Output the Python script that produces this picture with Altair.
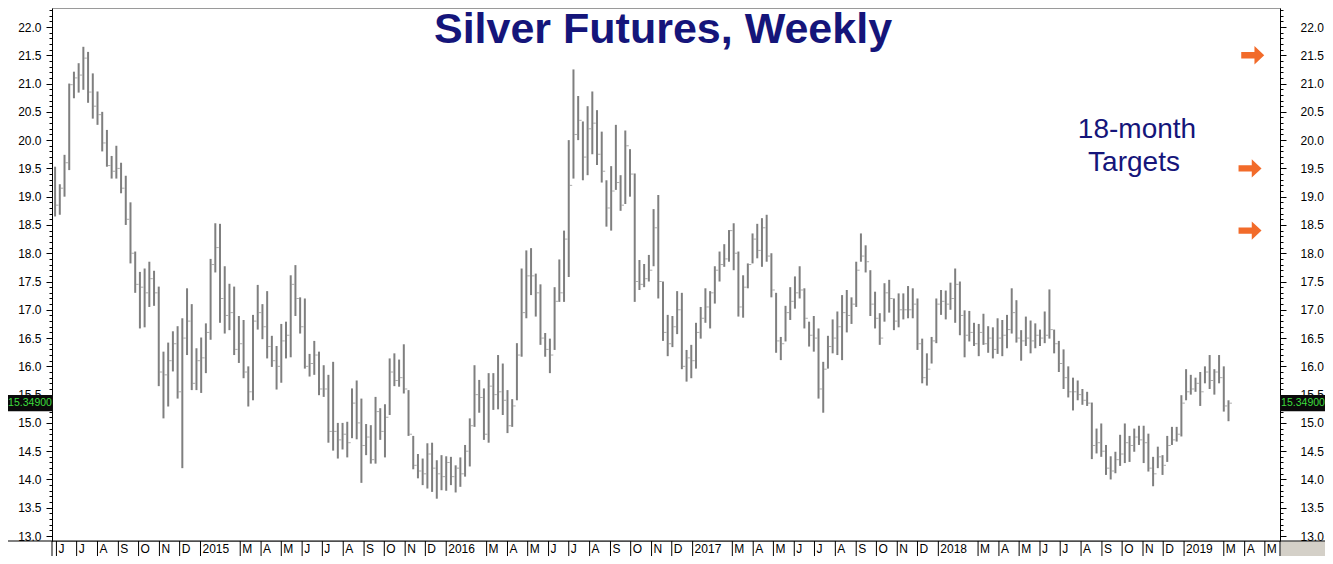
import altair as alt
import pandas as pd

# Weekly silver futures bars (high / low / close), one per week starting 2014-05-30
high = [19.53, 19.22, 19.74, 21.00, 21.21, 21.36, 21.65, 21.56, 21.18, 20.86,
        20.50, 20.18, 19.72, 19.90, 19.60, 19.37, 18.90, 18.03, 17.67, 17.73,
        17.85, 17.69, 17.41, 16.26, 16.42, 16.62, 16.71, 16.85, 17.38, 17.10,
        16.32, 16.51, 16.76, 17.90, 18.53, 18.52, 17.77, 17.46, 17.41, 16.89,
        16.82, 16.00, 16.91, 17.44, 17.10, 17.33, 16.54, 16.36, 16.75, 16.79,
        17.61, 17.79, 17.22, 17.20, 16.22, 16.45, 16.26, 16.02, 15.85, 16.08,
        15.00, 15.00, 15.02, 15.61, 15.75, 15.43, 14.98, 14.96, 15.46, 15.26,
        15.33, 16.14, 16.23, 16.12, 16.39, 15.58, 14.77, 14.45, 14.37, 14.64,
        14.65, 14.34, 14.43, 14.41, 14.40, 14.25, 14.39, 14.61, 15.08, 16.02,
        15.76, 15.61, 15.88, 15.88, 16.20, 16.05, 15.58, 15.42, 16.41, 17.73,
        18.05, 18.09, 17.64, 17.45, 16.59, 16.49, 17.40, 17.89, 18.40, 20.00,
        21.25, 20.78, 20.33, 20.60, 20.86, 20.53, 20.15, 19.29, 19.54, 20.27,
        19.38, 20.17, 19.84, 19.41, 17.88, 17.81, 17.97, 18.78, 19.03, 17.50,
        16.91, 16.89, 17.33, 17.30, 16.29, 16.38, 16.77, 17.05, 17.38, 17.33,
        17.77, 18.03, 18.16, 18.41, 18.53, 18.03, 17.61, 17.82, 18.35, 18.52,
        18.62, 18.68, 18.00, 17.30, 16.52, 17.07, 17.40, 17.59, 17.77, 17.38,
        16.79, 16.89, 16.67, 16.08, 16.54, 16.83, 16.97, 17.26, 17.35, 17.22,
        17.85, 18.35, 18.14, 17.70, 17.32, 16.94, 17.47, 17.53, 17.20, 17.29,
        17.29, 17.42, 17.38, 17.20, 16.49, 16.23, 16.52, 17.20, 17.35, 17.34,
        17.48, 17.73, 17.50, 16.99, 16.98, 16.77, 16.75, 16.93, 16.71, 16.69,
        16.85, 16.82, 16.91, 17.38, 17.17, 16.64, 16.88, 16.81, 16.76, 16.65,
        16.97, 17.36, 16.65, 16.45, 16.30, 16.00, 15.80, 15.75, 15.60, 15.55,
        15.36, 14.90, 14.99, 14.61, 14.41, 14.49, 14.79, 14.99, 14.77, 14.90,
        14.95, 14.95, 14.81, 14.40, 14.58, 14.43, 14.77, 14.93, 14.93, 15.49,
        15.95, 15.85, 15.80, 15.90, 16.00, 16.20, 15.95, 16.20, 16.00, 15.40]

low = [18.65, 18.68, 19.00, 19.47, 20.74, 20.84, 20.89, 20.66, 20.38, 20.27,
       19.80, 19.53, 19.32, 19.32, 19.06, 18.50, 17.82, 17.30, 16.67, 16.69,
       17.05, 17.07, 15.65, 15.08, 15.29, 15.91, 15.43, 14.20, 16.20, 15.58,
       15.58, 15.53, 15.88, 16.47, 17.66, 16.77, 16.58, 16.64, 16.20, 16.06,
       15.79, 15.29, 15.40, 16.65, 16.48, 16.14, 15.99, 15.59, 15.71, 16.14,
       16.16, 16.89, 16.58, 15.96, 15.82, 15.85, 15.49, 15.46, 14.65, 14.51,
       14.37, 14.53, 14.39, 14.73, 14.71, 13.94, 14.43, 14.28, 14.28, 14.70,
       14.39, 15.14, 15.65, 15.64, 15.52, 14.77, 14.18, 14.02, 13.90, 13.84,
       13.78, 13.66, 13.81, 13.80, 13.90, 13.77, 13.87, 14.05, 14.23, 14.93,
       15.18, 14.70, 14.65, 15.23, 15.24, 15.14, 14.82, 14.93, 15.40, 16.17,
       16.85, 17.26, 16.88, 16.38, 16.17, 15.88, 16.29, 17.14, 17.14, 17.58,
       19.32, 20.00, 19.29, 19.38, 19.75, 19.56, 19.25, 18.47, 18.40, 19.12,
       18.75, 18.87, 19.00, 17.14, 17.35, 17.40, 17.50, 17.77, 17.20, 16.45,
       16.18, 16.34, 16.57, 15.95, 15.73, 15.79, 15.96, 16.49, 16.77, 16.67,
       17.11, 17.50, 17.76, 17.85, 17.70, 16.88, 16.86, 17.38, 17.82, 17.91,
       17.76, 17.85, 17.22, 16.24, 16.11, 16.44, 16.82, 17.02, 17.20, 16.67,
       16.35, 16.26, 15.43, 15.18, 15.96, 16.23, 16.20, 16.11, 16.60, 16.75,
       17.05, 17.85, 17.66, 16.89, 16.67, 16.38, 16.79, 16.95, 16.64, 16.69,
       16.83, 16.85, 16.85, 16.29, 15.70, 15.66, 16.05, 16.41, 16.91, 16.83,
       17.00, 16.77, 16.55, 16.16, 16.44, 16.36, 16.18, 16.38, 16.24, 16.14,
       16.22, 16.18, 16.32, 16.58, 16.42, 16.10, 16.36, 16.23, 16.32, 16.36,
       16.41, 16.49, 16.23, 15.90, 15.60, 15.45, 15.22, 15.40, 15.32, 15.30,
       14.36, 14.46, 14.40, 14.08, 14.00, 14.11, 14.24, 14.29, 14.31, 14.49,
       14.61, 14.29, 14.14, 13.88, 14.20, 14.08, 14.31, 14.61, 14.67, 14.76,
       15.40, 15.50, 15.55, 15.30, 15.70, 15.60, 15.50, 15.70, 15.20, 15.03]

close = [18.85, 19.15, 19.60, 20.98, 21.10, 21.15, 21.45, 20.85, 20.60, 20.45,
         19.95, 19.55, 19.45, 19.50, 19.15, 18.60, 18.00, 17.45, 17.40, 17.30,
         17.55, 17.30, 15.90, 15.85, 16.10, 16.40, 15.55, 16.50, 16.80, 15.70,
         16.10, 16.15, 16.60, 17.80, 18.10, 17.20, 16.90, 16.95, 16.30, 16.40,
         15.90, 15.55, 16.80, 16.95, 16.70, 16.35, 16.10, 16.00, 16.45, 16.55,
         17.45, 17.20, 16.70, 16.00, 16.05, 16.20, 15.60, 15.60, 14.85, 14.85,
         14.70, 14.80, 14.65, 15.35, 15.00, 14.60, 14.75, 14.35, 15.20, 14.85,
         15.10, 15.90, 15.75, 15.80, 15.60, 14.80, 14.25, 14.15, 14.10, 14.45,
         14.20, 14.10, 14.05, 14.30, 14.05, 14.20, 14.10, 14.50, 14.95, 15.50,
         15.45, 14.80, 15.65, 15.50, 15.55, 15.40, 14.95, 15.30, 16.20, 16.95,
         17.60, 17.60, 17.30, 16.50, 16.30, 16.20, 17.15, 17.30, 18.25, 19.20,
         20.10, 20.35, 19.70, 20.20, 20.30, 19.75, 19.45, 18.80, 19.10, 19.25,
         18.85, 19.90, 19.40, 17.50, 17.45, 17.55, 17.70, 18.45, 17.50, 16.60,
         16.40, 16.70, 17.00, 16.00, 16.15, 16.10, 16.60, 16.85, 17.05, 17.30,
         17.70, 17.80, 17.90, 18.40, 18.00, 17.05, 17.40, 17.80, 18.25, 18.05,
         18.45, 17.95, 17.35, 16.45, 16.40, 16.95, 17.15, 17.30, 17.35, 16.85,
         16.55, 16.50, 15.60, 15.95, 16.35, 16.50, 16.70, 16.95, 16.90, 17.10,
         17.70, 17.95, 17.85, 17.10, 16.85, 16.50, 17.30, 17.20, 16.80, 17.00,
         17.00, 17.00, 17.10, 16.40, 15.80, 15.95, 16.45, 17.10, 17.15, 17.10,
         17.20, 17.45, 16.90, 16.55, 16.60, 16.40, 16.60, 16.40, 16.50, 16.30,
         16.50, 16.55, 16.65, 16.95, 16.50, 16.45, 16.50, 16.45, 16.55, 16.50,
         16.55, 16.65, 16.40, 16.05, 15.80, 15.55, 15.55, 15.50, 15.40, 15.35,
         14.60, 14.65, 14.50, 14.20, 14.15, 14.35, 14.45, 14.65, 14.60, 14.75,
         14.70, 14.65, 14.20, 14.10, 14.40, 14.25, 14.60, 14.70, 14.80, 15.35,
         15.55, 15.60, 15.70, 15.55, 15.90, 15.75, 15.90, 15.80, 15.30, 15.349]

first_week = "2014-05-30"
target_values = [21.5, 19.5, 18.4]
target_dates = ["2019-04-13", "2019-04-09", "2019-04-09"]
last_price = 15.349
last_price_label = "15.34900"
title_text = "Silver Futures, Weekly"
note_lines = ["18-month", "Targets"]
month_letters = "JFMAMJJASOND"

dates = pd.date_range(first_week, periods=len(high), freq="7D")
df = pd.DataFrame({"date": dates.strftime("%Y-%m-%d"), "high": high,
                   "low": low, "close": close})


def ms(s):
    return int(pd.Timestamp(s, tz="UTC").timestamp() * 1000)


x_domain = [ms("2014-05-25 10:00"), ms("2019-05-23 12:00")]

# month separators on the time strip (February has none in the original)
month_dates, month_labels = [], []
for yr in range(2014, 2020):
    for mo in range(1, 13):
        if mo == 2:
            continue
        t = ms(f"{yr}-{mo:02d}-01")
        if x_domain[0] <= t <= x_domain[1]:
            month_dates.append(f"{yr}-{mo:02d}-01")
            month_labels.append(str(yr) if mo == 1 else month_letters[mo - 1])
months_df = pd.DataFrame({"date": month_dates, "label": month_labels})

y_domain = [12.912, 22.336]
y_ticks = [round(12.9 + 0.1 * i, 1) for i in range(95)]

xscale = alt.Scale(type="utc", domain=x_domain)
yscale = alt.Scale(domain=y_domain, nice=False, zero=False)

FONT = "Liberation Sans"
major_test = "abs(datum.value*2 - round(datum.value*2)) < 0.001"
label_expr_y = f"{major_test} ? format(datum.value, '.1f') : ''"
tick_size_y = {"condition": {"test": major_test, "value": 6}, "value": 3}

left_axis = alt.Axis(
    orient="left", values=y_ticks, labelExpr=label_expr_y, tickSize=tick_size_y,
    tickColor="black", domainColor="black", labelColor="black", labelFont=FONT,
    labelFontSize=12, labelPadding=5, labelOverlap=False, grid=False, title=None,
)
right_axis = alt.Axis(
    orient="right", values=y_ticks, labelExpr=label_expr_y, tickSize=tick_size_y,
    tickColor="black", domainColor="black", labelColor="black", labelFont=FONT,
    labelFontSize=12, labelPadding=14, labelOverlap=False, grid=False, title=None,
)

bars = alt.Chart(df).mark_rule(color="#7f7f7f", strokeWidth=2).encode(
    x=alt.X("date:T", scale=xscale, axis=None),
    y=alt.Y("low:Q", scale=yscale, axis=left_axis),
    y2="high:Q",
)
closes = alt.Chart(df).mark_tick(
    orient="horizontal", size=2.5, thickness=1, xOffset=2.2, color="#8a8a8a"
).encode(
    x=alt.X("date:T", scale=xscale, axis=None),
    y=alt.Y("close:Q", scale=yscale, axis=right_axis),
)

arrow_path = "M -1 -0.28 L 0.15 -0.28 L 0.15 -0.8 L 1 0 L 0.15 0.8 L 0.15 0.28 L -1 0.28 Z"
targets_df = pd.DataFrame({"date": target_dates, "target": target_values})
arrows = alt.Chart(targets_df).mark_point(
    shape=arrow_path, filled=True, fill="#f26b2a", stroke=None, size=529, opacity=1
).encode(
    x=alt.X("date:T", scale=xscale, axis=None),
    y=alt.Y("target:Q", scale=yscale, axis=None),
)

price_df = pd.DataFrame({"price": [last_price], "label": [last_price_label]})
box_path = "M -1 -0.35 L 1 -0.35 L 1 0.35 L -1 0.35 Z"
price_layers = []
for px in (-22, 1251):
    price_layers.append(
        alt.Chart(price_df).mark_point(
            shape=box_path, filled=True, fill="#0a0a0a", stroke=None, size=2116, opacity=1
        ).encode(x=alt.value(px), y=alt.Y("price:Q", scale=yscale, axis=None))
    )
    price_layers.append(
        alt.Chart(price_df).mark_text(
            font=FONT, fontSize=10.5, color="#3ddc3d", align="center", baseline="middle"
        ).encode(x=alt.value(px), y=alt.Y("price:Q", scale=yscale, axis=None),
                 text="label:N")
    )

# time strip below the plot: separators and month / year labels
month_rules = alt.Chart(months_df).mark_rule(color="black", strokeWidth=1).encode(
    x=alt.X("date:T", scale=xscale, axis=None),
    y=alt.value(533), y2=alt.value(550),
)
month_text = alt.Chart(months_df).mark_text(
    font=FONT, fontSize=12, color="black", align="left", baseline="top", dx=2
).encode(
    x=alt.X("date:T", scale=xscale, axis=None),
    y=alt.value(535.5), text="label:N",
)

one = pd.DataFrame({"k": [0]})
title = alt.Chart(one).mark_text(
    text=title_text, font=FONT, fontSize=43, fontWeight="bold", color="#15157a",
    align="center", baseline="alphabetic",
).encode(x=alt.value(611), y=alt.value(35))
note1 = alt.Chart(one).mark_text(
    text=note_lines[0], font=FONT, fontSize=28, color="#15157a",
    align="center", baseline="middle",
).encode(x=alt.value(1085), y=alt.value(122))
note2 = alt.Chart(one).mark_text(
    text=note_lines[1], font=FONT, fontSize=28, color="#15157a",
    align="center", baseline="middle",
).encode(x=alt.value(1082), y=alt.value(155))

corner = alt.Chart(one).mark_rect(color="#d4d0c8").encode(
    x=alt.value(1228.5), x2=alt.value(1275), y=alt.value(533.5), y2=alt.value(550)
)
bottom_line = alt.Chart(one).mark_rule(color="black").encode(
    x=alt.value(-44), x2=alt.value(1273), y=alt.value(533)
)
strip_left = alt.Chart(one).mark_rule(color="black").encode(
    x=alt.value(0), y=alt.value(533), y2=alt.value(550)
)
strip_right = alt.Chart(one).mark_rule(color="black").encode(
    x=alt.value(1228), y=alt.value(533), y2=alt.value(550)
)

chart = alt.layer(
    bars, closes, arrows, *price_layers, title, note1, note2,
    corner, month_rules, month_text, bottom_line, strip_left, strip_right,
).resolve_scale(x="shared", y="shared").resolve_axis(y="independent").properties(
    width=1228, height=533,
    padding={"left": 44, "top": 0, "right": 45, "bottom": 15},
    autosize=alt.AutoSizeParams(type="none"),
    background="white",
).configure_view(stroke="#9a9a9a", strokeWidth=1)

chart.save("out.html", embed_options={"renderer": "svg", "actions": False})
